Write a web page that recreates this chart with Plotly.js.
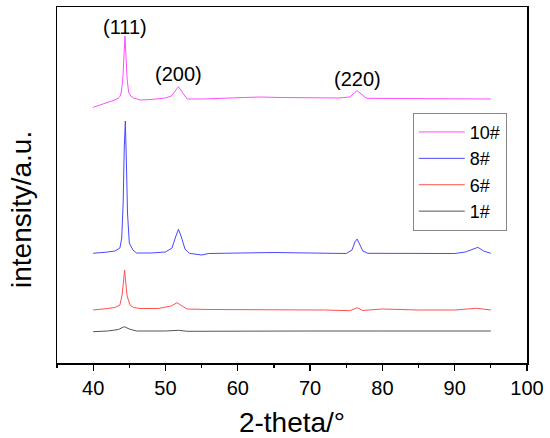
<!DOCTYPE html>
<html>
<head>
<meta charset="utf-8">
<script src="https://cdn.plot.ly/plotly-3.0.1.min.js"></script>
<style>html,body{margin:0;padding:0;background:#fff;}#chart{width:550px;height:438px;}</style>
</head>
<body>
<div id="chart"></div>
<script>
// Sample names (legend order top to bottom)
const sampleNames = ['10#', '8#', '6#', '1#'];
const sampleColors = ['#ff4dff', '#4848ff', '#ff5050', '#555555'];

// 2-theta (degrees) and offset intensity (a.u.)
const x10 = [40, 41, 42, 42.4, 43, 43.5, 43.7, 43.9, 44.1, 44.25, 44.4, 44.55, 44.7, 44.9, 45.2, 45.6, 46.5, 48, 50, 50.8, 51.3, 51.8, 52.3, 53, 55, 60, 63, 66, 70, 74, 75.5, 76.1, 76.5, 76.9, 77.8, 82, 88, 92, 95];
const y10 = [255.7, 258, 260, 261.3, 263, 265, 266.3, 271, 284, 305, 327, 305, 284, 271, 267, 265, 263, 263.5, 265, 267, 272, 276.3, 271, 264, 264, 265, 266, 265.5, 265, 265, 266, 270, 272.3, 270, 264.7, 264.5, 264, 264, 264];

const x8 = [40, 41, 42, 43, 43.7, 43.95, 44.15, 44.3, 44.45, 44.6, 44.75, 45.0, 45.5, 46, 48, 50, 50.9, 51.4, 51.8, 52.2, 52.7, 53.3, 55, 56, 60, 65, 70, 75, 75.8, 76.2, 76.5, 76.8, 77.3, 78, 85, 90, 91.5, 92.5, 93.2, 94, 95];
const y8 = [109.7, 110, 111, 112, 115, 125, 160, 215, 242, 200, 150, 120, 113, 110, 110, 111, 115, 126, 133.7, 126, 114, 109.7, 108, 109.5, 110, 110.5, 110, 109.5, 113, 121, 124, 120, 112, 109.7, 109.5, 109.5, 111, 114, 115.7, 112, 109.7];

const x6 = [40, 41, 42, 43, 43.7, 44.0, 44.2, 44.35, 44.5, 44.7, 45.1, 45.6, 46.5, 49, 50.8, 51.6, 52.3, 53, 56, 60, 66, 72, 75.5, 76.5, 77.3, 80, 85, 90, 93, 95];
const y6 = [53, 53.5, 54.5, 55.5, 58, 68, 81, 93, 81, 67, 58, 55.5, 54.5, 54.5, 57, 60.3, 57, 54, 53.5, 53.5, 53, 53, 52.3, 55.3, 52.5, 54, 53, 53, 54.7, 53];

const x1 = [40, 42, 43.5, 44.3, 45, 46, 50, 51.8, 53, 60, 70, 80, 95];
const y1 = [31.3, 32, 33.5, 36.3, 34, 32, 32, 32.7, 31.7, 32, 32, 32, 32];

// Peak labels
const peakLabels = ['(111)', '(200)', '(220)'];
const peakLabelX = [44.4, 51.8, 76.5];
const peakLabelY = [336.5, 289, 284];

const xTickVals = [40, 50, 60, 70, 80, 90, 100];

const seriesX = [x10, x8, x6, x1];
const seriesY = [y10, y8, y6, y1];

const FONT = 'Liberation Sans, Arial, sans-serif';

const traces = sampleNames.map((name, i) => ({
  x: seriesX[i], y: seriesY[i], name: name, type: 'scatter', mode: 'lines',
  line: {color: sampleColors[i], width: 1}
}));

const annotations = peakLabels.map((t, i) => ({
  text: t, x: peakLabelX[i], y: peakLabelY[i], xref: 'x', yref: 'y',
  showarrow: false, xanchor: 'center', yanchor: 'middle',
  font: {family: FONT, size: 20, color: '#000'}
}));
annotations.push({
  text: 'intensity/a.u.', xref: 'paper', yref: 'paper', x: -0.0745, y: 0.4326,
  textangle: -90, showarrow: false, xanchor: 'center', yanchor: 'middle',
  font: {family: FONT, size: 28, color: '#000'}
});

const layout = {
  width: 550, height: 438,
  margin: {l: 57, r: 23, t: 7, b: 75},
  paper_bgcolor: '#fff', plot_bgcolor: '#fff',
  font: {family: FONT, color: '#000'},
  showlegend: true,
  legend: {
    x: 0.757, y: 0.703, xanchor: 'left', yanchor: 'top',
    bgcolor: '#fff', bordercolor: '#888', borderwidth: 1,
    font: {family: FONT, size: 18, color: '#000'},
    itemwidth: 46, tracegroupgap: 0
  },
  xaxis: {
    range: [35, 100], tickvals: xTickVals, ticks: 'outside', ticklen: 6, tickwidth: 1.2,
    tickcolor: '#000', showline: true, linecolor: '#000', linewidth: 1.5, mirror: true,
    showgrid: false, zeroline: false,
    tickfont: {family: FONT, size: 20, color: '#000'},
    minor: {dtick: 5, tick0: 35, ticks: 'outside', ticklen: 3, tickwidth: 1.2, tickcolor: '#000'},
    title: {text: '2-theta/°', font: {family: FONT, size: 28, color: '#000'}, standoff: 18}
  },
  yaxis: {
    range: [0, 356], showticklabels: false, ticks: '', showline: true, linecolor: '#000',
    linewidth: 1.5, mirror: true, showgrid: false, zeroline: false
  },
  annotations: annotations
};

Plotly.newPlot('chart', traces, layout, {displayModeBar: false, staticPlot: true});
</script>
</body>
</html>
